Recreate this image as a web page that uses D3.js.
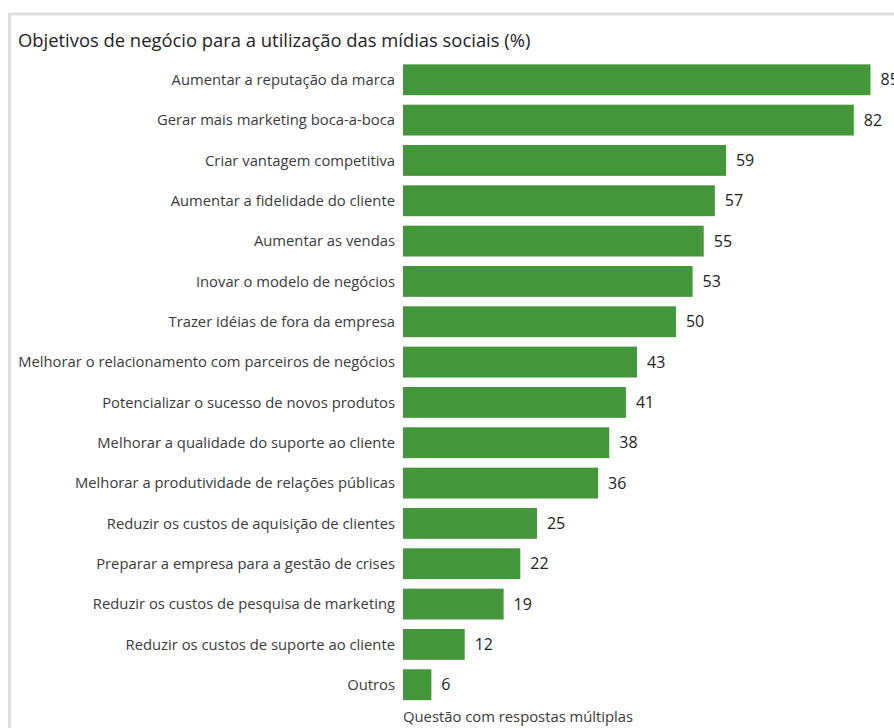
<!DOCTYPE html>
<html>
<head>
<meta charset="utf-8">
<script src="https://cdn.jsdelivr.net/npm/d3@7"></script>
<style>
  html, body { margin: 0; padding: 0; background: #fff; }
  svg { display: block; font-family: "Open Sans", "Noto Sans", sans-serif; }
</style>
</head>
<body>
<svg id="chart" width="894" height="728"></svg>
<script>
// Business objectives for using social media (%), multiple answers allowed
const categories = [
  "Aumentar a reputação da marca",
  "Gerar mais marketing boca-a-boca",
  "Criar vantagem competitiva",
  "Aumentar a fidelidade do cliente",
  "Aumentar as vendas",
  "Inovar o modelo de negócios",
  "Trazer idéias de fora da empresa",
  "Melhorar o relacionamento com parceiros de negócios",
  "Potencializar o sucesso de novos produtos",
  "Melhorar a qualidade do suporte ao cliente",
  "Melhorar a produtividade de relações públicas",
  "Reduzir os custos de aquisição de clientes",
  "Preparar a empresa para a gestão de crises",
  "Reduzir os custos de pesquisa de marketing",
  "Reduzir os custos de suporte ao cliente",
  "Outros"
];
const values = [85, 82, 59, 57, 55, 53, 50, 43, 41, 38, 36, 25, 22, 19, 12, 6];
const title = "Objetivos de negócio para a utilização das mídias sociais (%)";
const footnote = "Questão com respostas múltiplas";

const svg = d3.select("#chart");
const W = 894, H = 728;

// Panel frame: light grey rule along the top and left
svg.append("line").attr("x1", 8).attr("x2", W).attr("y1", 14).attr("y2", 14)
  .attr("stroke", "#dedede").attr("stroke-width", 3);
svg.append("line").attr("x1", 9.5).attr("x2", 9.5).attr("y1", 13).attr("y2", H)
  .attr("stroke", "#dedede").attr("stroke-width", 3);

svg.append("text")
  .attr("x", 18).attr("y", 47)
  .attr("font-size", 18.4)
  .attr("fill", "#222")
  .text(title);

const x = d3.scaleLinear().domain([0, 85]).range([398, 870.5]);
const inset = 5; // gap between the label column and the bar base
const y = d3.scaleBand().domain(categories).range([59.5, 705]).paddingInner(0.235).paddingOuter(0.12);

const data = categories.map((c, i) => ({ c, v: values[i] }));

const rows = svg.append("g").selectAll("g").data(data).join("g")
  .attr("transform", d => `translate(0,${y(d.c)})`);

rows.append("rect")
  .attr("x", x(0) + inset)
  .attr("width", d => x(d.v) - x(0) - inset)
  .attr("height", y.bandwidth())
  .attr("fill", "#43963a");

rows.append("text")
  .attr("x", 395)
  .attr("y", y.bandwidth() / 2)
  .attr("dy", "0.35em")
  .attr("text-anchor", "end")
  .attr("font-size", 14.8)
  .attr("fill", "#3a3a3a")
  .text(d => d.c);

rows.append("text")
  .attr("x", d => x(d.v) + 10)
  .attr("y", y.bandwidth() / 2)
  .attr("dy", "0.35em")
  .attr("font-size", 16)
  .attr("font-weight", 500)
  .attr("fill", "#222")
  .text(d => d.v);

svg.append("text")
  .attr("x", 403).attr("y", 722)
  .attr("font-size", 14.8)
  .attr("fill", "#3a3a3a")
  .text(footnote);
</script>
</body>
</html>
